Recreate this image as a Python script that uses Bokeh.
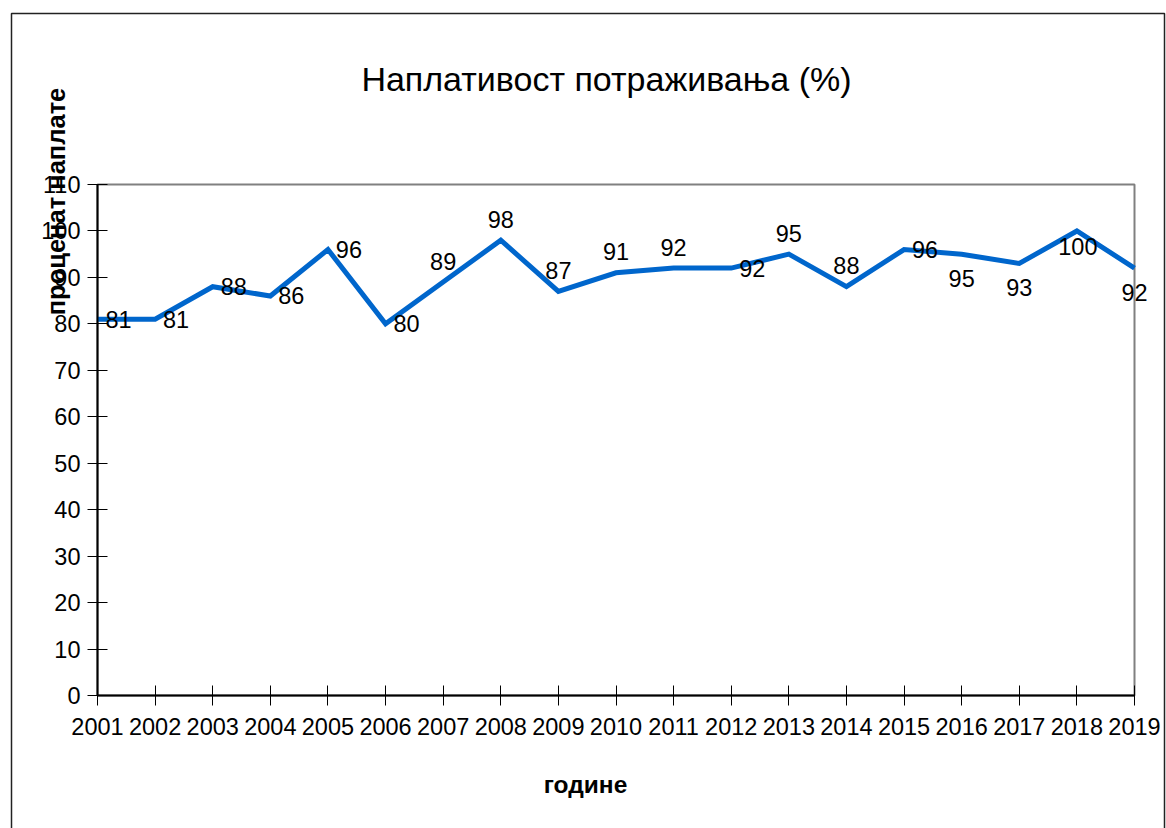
from bokeh.plotting import figure
from bokeh.models import ColumnDataSource, LabelSet, Label, BoxAnnotation, FixedTicker, Range1d
from bokeh.core.properties import value
from bokeh.embed import file_html
from bokeh.resources import INLINE

# ---- data ----
years = [2001, 2002, 2003, 2004, 2005, 2006, 2007, 2008, 2009, 2010,
         2011, 2012, 2013, 2014, 2015, 2016, 2017, 2018, 2019]
collection_pct = [81, 81, 88, 86, 96, 80, 89, 98, 87, 91,
                  92, 92, 95, 88, 96, 95, 93, 100, 92]
y_ticks = [0, 10, 20, 30, 40, 50, 60, 70, 80, 90, 100, 110]
title_text = "Наплативост потраживања (%)"
x_title = "године"
y_title = "проценат наплате"

# ---- style / layout ----
# label placement: r = right, a = above, b = below, c = close below
label_pos = ["r", "r", "r", "r", "r", "r", "a", "a", "a", "a",
             "a", "r", "a", "a", "r", "b", "b", "c", "b"]
pos_dx = {"r": 21, "a": 0, "b": 0, "c": 1}
pos_dy = {"r": 0, "a": 21, "b": -24, "c": -16}

FONT = "Liberation Sans"
W, H = 1166, 828
# plot area in pixels (canvas coords): left, top, right, bottom
PL, PT, PR, PB = 97, 184, 1134, 695
X0, X1 = years[0], years[-1]
Y0, Y1 = y_ticks[0], y_ticks[-1]
sx = (PR - PL) / (X1 - X0)
sy = (PB - PT) / (Y1 - Y0)


def px2x(px):
    return X0 + (px - PL) / sx


def px2y(py):
    return Y0 + (PB - py) / sy


p = figure(width=W, height=H, output_backend="svg", toolbar_location=None,
           x_range=Range1d(px2x(0), px2x(W)), y_range=Range1d(px2y(H), px2y(0)),
           min_border=0)
p.min_border_left = p.min_border_right = p.min_border_top = p.min_border_bottom = 0

p.xgrid.visible = False
p.ygrid.visible = False
p.outline_line_color = None
p.background_fill_color = "white"

# grey plot-area frame (left/bottom covered by axes)
p.add_layout(BoxAnnotation(left=X0, right=X1, bottom=Y0, top=Y1,
                           fill_color=None, fill_alpha=0,
                           line_color="#808080", line_alpha=1.0,
                           line_width=2, level="underlay"))
# outer chart border
p.add_layout(BoxAnnotation(left=px2x(11), right=px2x(1164), top=px2y(13),
                           bottom=px2y(H + 20), fill_color=None, fill_alpha=0,
                           line_color="#222222", line_alpha=1.0, line_width=1.5,
                           level="underlay"))

for ax in (p.xaxis[0], p.yaxis[0]):
    ax.axis_line_color = "black"
    ax.axis_line_width = 2
    ax.major_tick_in = 10
    ax.major_tick_out = 10
    ax.major_tick_line_color = "black"
    ax.major_tick_line_width = 1
    ax.minor_tick_line_color = None
    ax.major_label_text_font = FONT
    ax.major_label_text_font_size = "23.5px"
    ax.major_label_text_color = "black"

p.xaxis[0].major_label_standoff = 12
p.yaxis[0].major_label_standoff = 7
p.xaxis[0].ticker = FixedTicker(ticks=years)
p.yaxis[0].ticker = FixedTicker(ticks=y_ticks)
p.xaxis[0].fixed_location = Y0
p.yaxis[0].fixed_location = X0
p.xaxis[0].bounds = (X0, X1)
p.yaxis[0].bounds = (Y0, Y1)

src = ColumnDataSource(dict(
    x=years, y=collection_pct, txt=[str(v) for v in collection_pct],
    dx=[pos_dx[k] for k in label_pos], dy=[pos_dy[k] for k in label_pos]))

p.line("x", "y", source=src, line_color="#0066CC", line_width=5, line_join="miter")

p.add_layout(LabelSet(x="x", y="y", text="txt", x_offset="dx", y_offset="dy",
                      source=src, text_font=value(FONT), text_font_size=value("23.5px"),
                      text_color="black", text_align="center",
                      text_baseline="middle"))

p.add_layout(Label(x=px2x(606), y=px2y(78), text=title_text, text_font=FONT,
                   text_font_size="34px", text_align="center",
                   text_baseline="middle", text_color="black"))
p.add_layout(Label(x=px2x(585), y=px2y(784), text=x_title, text_font=FONT,
                   text_font_size="24.5px", text_font_style="bold",
                   text_align="center", text_baseline="middle",
                   text_color="black"))
p.add_layout(Label(x=px2x(55), y=px2y(201), text=y_title, text_font=FONT,
                   text_font_size="25.5px", text_font_style="bold",
                   text_align="center", text_baseline="middle",
                   angle=1.5707963, text_color="black"))

open("out.html", "w").write(file_html(p, INLINE))
